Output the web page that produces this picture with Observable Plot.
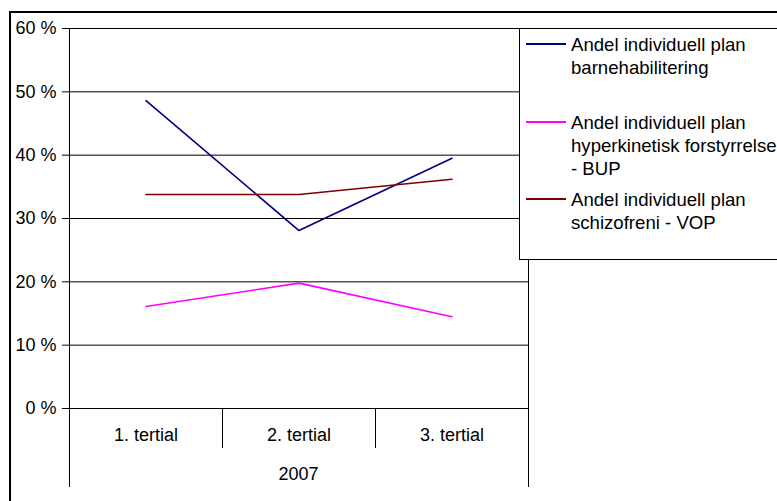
<!DOCTYPE html>
<html><head><meta charset="utf-8">
<script src="https://cdn.jsdelivr.net/npm/d3@7"></script>
<script src="https://cdn.jsdelivr.net/npm/@observablehq/plot@0.6"></script>
<style>
html,body{margin:0;padding:0;background:#fff;overflow:hidden;width:777px;height:501px}
#wrap{position:relative;width:777px;height:501px;overflow:hidden;font-family:"Liberation Sans",Arial,sans-serif;color:#000}
#chart{position:absolute;left:0;top:0}
#border{position:absolute;left:9px;top:11px;width:768px;height:490px;border-top:2px solid #000;border-left:2px solid #000;box-sizing:border-box}
#legend{position:absolute;left:519px;top:28px;width:258px;height:232px;border:1px solid #000;border-right:none;background:#fff;box-sizing:border-box}
.item{position:absolute;left:51px;font-size:18.6px;line-height:23px;white-space:nowrap}
.sw{position:absolute;left:6px;width:40px;height:2px}
</style></head>
<body><div id="wrap"><div id="border"></div><div id="chart"></div><div id="legend"></div></div>
<script>
const categories = ["1. tertial", "2. tertial", "3. tertial"];
const yearLabel = ["2007"];
const seriesNames = [
  "Andel individuell plan barnehabilitering",
  "Andel individuell plan hyperkinetisk forstyrrelse - BUP",
  "Andel individuell plan schizofreni - VOP"
];
const legendLines = [
  ["Andel individuell plan", "barnehabilitering"],
  ["Andel individuell plan", "hyperkinetisk forstyrrelse", "- BUP"],
  ["Andel individuell plan", "schizofreni - VOP"]
];
const barnehabilitering = [0.486, 0.281, 0.395];
const hyperkinetisk = [0.161, 0.198, 0.145];
const schizofreni = [0.338, 0.338, 0.362];
const seriesValues = [barnehabilitering, hyperkinetisk, schizofreni];
const seriesColors = ["#000080", "#ff00ff", "#800000"];
const yTicks = [0, 0.1, 0.2, 0.3, 0.4, 0.5, 0.6];

const rows = [];
seriesNames.forEach((s, si) => categories.forEach((c, ci) => rows.push({series: s, cat: c, value: seriesValues[si][ci]})));

function frameLines(index, scales) {
  const x = scales.x, y = scales.y;
  const g = d3.create("svg:g").attr("stroke", "#000").attr("stroke-width", 1).attr("fill", "none");
  const bw = x.bandwidth();
  const top = y(d3.max(yTicks)), base = y(0);
  const x0 = x(categories[0]), xn = x(categories[categories.length - 1]) + bw;
  for (const px of [x0, xn]) {
    g.append("line").attr("x1", Math.round(px) + 0.5).attr("x2", Math.round(px) + 0.5)
      .attr("y1", top).attr("y2", base + 79);
  }
  for (const c of categories.slice(1)) {
    const px = Math.round(x(c)) + 0.5;
    g.append("line").attr("x1", px).attr("x2", px).attr("y1", base).attr("y2", base + 40);
  }
  return g.node();
}

const chart = Plot.plot({
  width: 777, height: 501,
  marginLeft: 68, marginRight: 249, marginTop: 28, marginBottom: 93,
  style: {fontFamily: '"Liberation Sans", Arial, sans-serif', fontSize: "18px", color: "#000", background: "transparent", overflow: "visible"},
  x: {type: "band", domain: categories, padding: 0, label: null},
  y: {domain: [0, 0.6], label: null},
  color: {domain: seriesNames, range: seriesColors},
  marks: [
    Plot.ruleY(yTicks, {stroke: "#000", strokeWidth: 1}),
    frameLines,
    Plot.axisY({ticks: yTicks, tickSize: 6, tickPadding: 6, label: null, stroke: "#000", fill: "#000", fontSize: 18,
      tickFormat: d => `${Math.round(d * 100)} %`}),
    Plot.axisX({tickSize: 0, tickPadding: 20, label: null, fill: "#000", fontSize: 18}),
    Plot.text(yearLabel, {frameAnchor: "bottom", lineAnchor: "middle", dy: 66, fontSize: 18, fill: "#000"}),
    Plot.lineY(rows, {x: "cat", y: "value", stroke: "series", strokeWidth: 1.6})
  ]
});
document.getElementById("chart").appendChild(chart);

const legend = document.getElementById("legend");
const centers = [16, 94, 171];
seriesNames.forEach((s, i) => {
  const sw = document.createElement("div");
  sw.className = "sw";
  sw.style.background = seriesColors[i];
  sw.style.top = (centers[i] - 1 - 1) + "px";
  legend.appendChild(sw);
  const it = document.createElement("div");
  it.className = "item";
  it.style.top = (centers[i] - 1 - 11.5) + "px";
  it.innerHTML = legendLines[i].join("<br>");
  legend.appendChild(it);
});
</script></body></html>
